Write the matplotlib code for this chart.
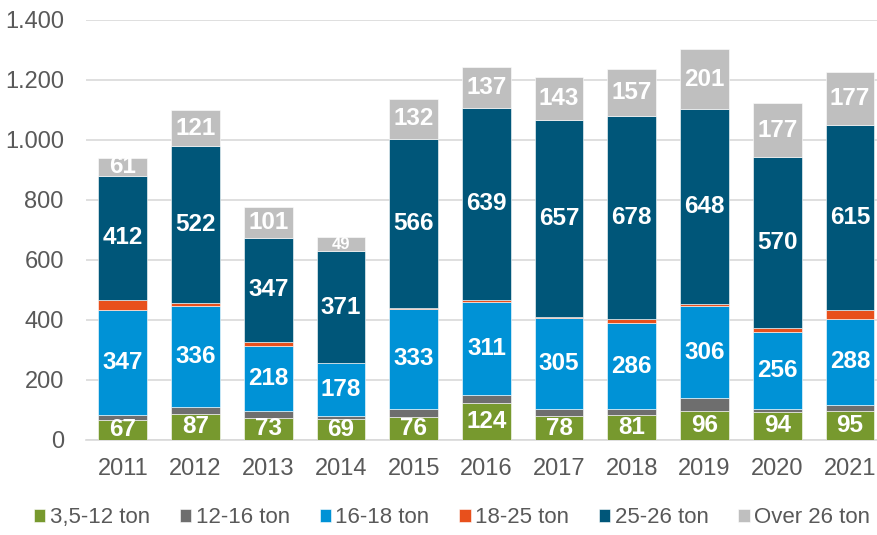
import matplotlib.pyplot as plt
import numpy as np

plt.rcParams['font.family'] = ['Liberation Sans', 'DejaVu Sans']

years = ['2011', '2012', '2013', '2014', '2015', '2016', '2017', '2018', '2019', '2020', '2021']
series_names = ['3,5-12 ton', '12-16 ton', '16-18 ton', '18-25 ton', '25-26 ton', 'Over 26 ton']
t_3_12 = [67, 87, 73, 69, 76, 124, 78, 81, 96, 94, 95]
t_12_16 = [17, 22, 22, 9, 28, 25, 24, 21, 43, 9, 21]
t_16_18 = [347, 336, 218, 178, 333, 311, 305, 286, 306, 256, 288]
t_18_25 = [36, 11, 14, 1, 1, 7, 3, 14, 8, 15, 30]
t_25_26 = [412, 522, 347, 371, 566, 639, 657, 678, 648, 570, 615]
t_over26 = [61, 121, 101, 49, 132, 137, 143, 157, 201, 177, 177]
yticks = [0, 200, 400, 600, 800, 1000, 1200, 1400]
ytick_labels = ['0', '200', '400', '600', '800', '1.000', '1.200', '1.400']

colors = ['#77992E', '#6E6E6E', '#0092D6', '#E8501C', '#005679', '#BFBFBF']
labelled = [True, False, True, False, True, True]

all_series = [t_3_12, t_12_16, t_16_18, t_18_25, t_25_26, t_over26]

fig, ax = plt.subplots(figsize=(8.78, 5.35), dpi=100)
fig.subplots_adjust(left=0.098, right=1.0, top=0.963, bottom=0.178)

x = np.arange(len(years))
bottom = np.zeros(len(years))
for name, vals, col, lab in zip(series_names, all_series, colors, labelled):
    vals = np.array(vals, dtype=float)
    bars = ax.bar(x, vals, 0.67, bottom=bottom, color=col, label=name,
                  edgecolor='white', linewidth=0.4, zorder=3)
    if lab:
        for xi, b, v in zip(x, bottom, vals):
            fs = 17.5 if v > 55 else 12
            ax.text(xi, b + v / 2, str(int(v)), ha='center', va='center',
                    color='white', fontsize=fs, fontweight='bold', zorder=4)
    bottom += vals

ax.set_ylim(0, 1400)
ax.set_xlim(-0.506, 10.385)
ax.set_yticks(yticks)
ax.set_yticklabels(ytick_labels)
ax.set_xticks(x)
ax.set_xticklabels(years)
ax.tick_params(axis='both', length=0, labelsize=17, colors='#595959')
ax.tick_params(axis='y', pad=16)
ax.tick_params(axis='x', pad=13)
ax.yaxis.grid(True, color='#D9D9D9', linewidth=1.2, zorder=0)
for s in ['top', 'right', 'left']:
    ax.spines[s].set_visible(False)
ax.spines['bottom'].set_color('#D9D9D9')
ax.spines['bottom'].set_linewidth(1.2)

leg = fig.legend(loc='lower center', bbox_to_anchor=(0.515, -0.025), ncol=6,
                 frameon=False, fontsize=16, handlelength=0.5, handleheight=0.5,
                 handletextpad=0.2, columnspacing=1.35)
for t in leg.get_texts():
    t.set_color('#595959')

plt.savefig('out.png', dpi=100)
